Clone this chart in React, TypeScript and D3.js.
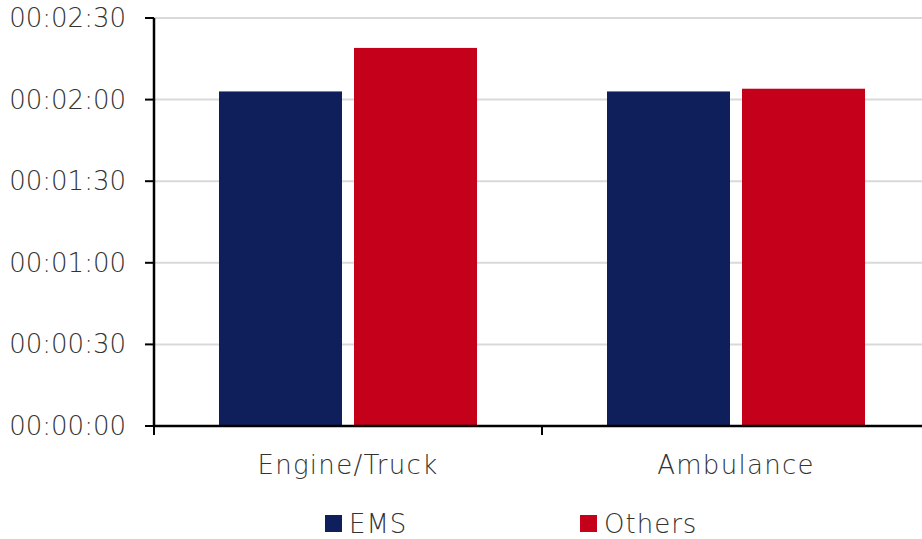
import React from "react";
import * as d3 from "d3";

const categories = ["Engine/Truck", "Ambulance"];
const seriesNames = ["EMS", "Others"];
const emsValues = [123, 123];
const othersValues = [139, 124];
const yTicks = [0, 30, 60, 90, 120, 150];
const colors = ["#0f1f5c", "#c5001a"];

const W = 922;
const H = 539;
const left = 154;
const top = 18;
const bottom = 426;
const right = 930;
const FONT = "'DejaVu Sans', sans-serif";
const FW = 200;

function fmt(s: number) {
  const h = Math.floor(s / 3600);
  const m = Math.floor((s % 3600) / 60);
  const sec = s % 60;
  const p = (n: number) => String(n).padStart(2, "0");
  return `${p(h)}:${p(m)}:${p(sec)}`;
}

export default function App() {
  const y = d3.scaleLinear().domain([0, 150]).range([bottom, top]);
  const x0 = d3.scaleBand<string>().domain(categories).range([left, right]).padding(0);
  const x1 = d3
    .scaleBand<string>()
    .domain(seriesNames)
    .range([65, 323])
    .paddingInner(0.0889)
    .paddingOuter(0);
  const values = [emsValues, othersValues];

  return (
    <svg width={W} height={H} style={{ position: "absolute", left: 0, top: 0 }}>
      <rect width={W} height={H} fill="#fff" />
      {yTicks.map((t) => (
        <g key={t}>
          {t > 0 && (
            <line x1={left} x2={W} y1={y(t)} y2={y(t)} stroke="#d9d9d9" strokeWidth={2} />
          )}
          <line x1={145} x2={left} y1={y(t)} y2={y(t)} stroke="#000" strokeWidth={2} />
          <text
            x={126}
            y={y(t)}
            textAnchor="end"
            dominantBaseline="central"
            fontFamily={FONT}
            fontWeight={FW}
            fontSize={26}
            fill="#333"
          >
            {fmt(t)}
          </text>
        </g>
      ))}
      {categories.map((c, ci) =>
        seriesNames.map((s, si) => {
          const v = values[si][ci];
          const bx = (x0(c) ?? 0) + (x1(s) ?? 0);
          return (
            <rect
              key={c + s}
              x={bx}
              y={y(v)}
              width={x1.bandwidth()}
              height={bottom - y(v)}
              fill={colors[si]}
            />
          );
        })
      )}
      <line x1={left} x2={left} y1={top} y2={bottom} stroke="#000" strokeWidth={2.5} />
      <line x1={left} x2={W} y1={bottom} y2={bottom} stroke="#000" strokeWidth={2.5} />
      {[left, left + x0.bandwidth()].map((tx, i) => (
        <line key={i} x1={tx} x2={tx} y1={bottom} y2={bottom + 9} stroke="#000" strokeWidth={2} />
      ))}
      {categories.map((c) => (
        <text
          key={c}
          x={(x0(c) ?? 0) + 194}
          y={465}
          textAnchor="middle"
          dominantBaseline="central"
          fontFamily={FONT}
          fontWeight={FW}
          fontSize={26}
          letterSpacing={1.3}
          fill="#333"
        >
          {c}
        </text>
      ))}
      {seriesNames.map((s, i) => {
        const lx = i === 0 ? 325 : 580;
        return (
          <g key={s}>
            <rect x={lx} y={515} width={17} height={17} fill={colors[i]} />
            <text
              x={lx + 24}
              y={524}
              dominantBaseline="central"
              fontFamily={FONT}
              fontWeight={FW}
              fontSize={26}
              letterSpacing={1}
              fill="#333"
            >
              {s}
            </text>
          </g>
        );
      })}
    </svg>
  );
}
